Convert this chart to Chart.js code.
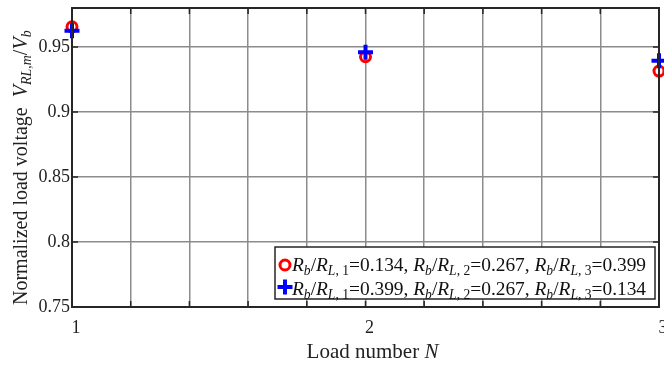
<!DOCTYPE html>
<html>
<head>
<meta charset="utf-8">
<script src="https://cdn.jsdelivr.net/npm/chart.js@4/dist/chart.umd.min.js"></script>
<style>
  html, body { margin: 0; padding: 0; background: #fff; }
  #wrap { width: 664px; height: 366px; position: relative; }
</style>
</head>
<body>
<div id="wrap"><canvas id="c"></canvas></div>
<script>
// Load index on the horizontal axis
const loadNumbers = [1, 2, 3];
// Normalized load voltage, case 1: Rb/RL,1=0.134, Rb/RL,2=0.267, Rb/RL,3=0.399
const voltageCase1 = [0.9655, 0.9425, 0.9315];
// Normalized load voltage, case 2: Rb/RL,1=0.399, Rb/RL,2=0.267, Rb/RL,3=0.134
const voltageCase2 = [0.9625, 0.9460, 0.9395];

// Axis ticks (grid every 0.2 on x, labels only on whole loads)
const xTickValues = [1, 1.2, 1.4, 1.6, 1.8, 2, 2.2, 2.4, 2.6, 2.8, 3];
const xTickLabels = ['1', '', '', '', '', '2', '', '', '', '', '3'];
const yTickValues = [0.75, 0.8, 0.85, 0.9, 0.95];
const yTickLabels = ['0.75', '0.8', '0.85', '0.9', '0.95'];
const yMin = 0.75, yMax = 0.98;

// Legend rows: [Rb/RL,1, Rb/RL,2, Rb/RL,3]
const legendRatios1 = ['0.134', '0.267', '0.399'];
const legendRatios2 = ['0.399', '0.267', '0.134'];

const SERIF = '"Liberation Serif", serif';
const AXIS_DARK = '#262626';
const GRID_GRAY = '#8c8c8c';

// Draw a run of text segments (italic / subscript aware) along the baseline
function drawRich(ctx, segs, x, y, size) {
  ctx.textBaseline = 'alphabetic';
  ctx.textAlign = 'left';
  for (const s of segs) {
    const fs = s.sub ? size * 0.7 : size;
    ctx.font = (s.i ? 'italic ' : '') + fs + 'px ' + SERIF;
    const dy = s.sub ? size * 0.22 : 0;
    ctx.fillText(s.t, x, y + dy);
    x += ctx.measureText(s.t).width;
  }
  return x;
}

function ratioSegs(k) {
  return [
    { t: 'R', i: true }, { t: 'b', i: true, sub: true }, { t: '/' },
    { t: 'R', i: true }, { t: 'L', i: true, sub: true }, { t: ', ' + k, sub: true }
  ];
}
function legendSegs(vals) {
  let segs = [];
  vals.forEach((v, idx) => {
    segs = segs.concat(ratioSegs(idx + 1));
    segs.push({ t: '=' + v + (idx < vals.length - 1 ? ', ' : '') });
  });
  return segs;
}

// Box, inward ticks, legend and axis titles with italic/subscript text
const framePlugin = {
  id: 'frame',
  afterDraw(chart) {
    const ctx = chart.ctx;
    const a = chart.chartArea;
    const xs = chart.scales.x, ys = chart.scales.y;
    ctx.save();
    ctx.strokeStyle = AXIS_DARK;
    ctx.lineWidth = 1.5;
    const tl = 6;
    ctx.beginPath();
    xTickValues.forEach(v => {
      const px = xs.getPixelForValue(v);
      ctx.moveTo(px, a.top); ctx.lineTo(px, a.top + tl);
      ctx.moveTo(px, a.bottom); ctx.lineTo(px, a.bottom - tl);
    });
    yTickValues.forEach(v => {
      const py = ys.getPixelForValue(v);
      ctx.moveTo(a.left, py); ctx.lineTo(a.left + tl, py);
      ctx.moveTo(a.right, py); ctx.lineTo(a.right - tl, py);
    });
    ctx.stroke();
    ctx.lineWidth = 2;
    ctx.strokeRect(a.left, a.top, a.right - a.left, a.bottom - a.top);

    // legend box
    const lx = 275, ly = 247, lw = 380, lh = 52;
    ctx.fillStyle = '#fff';
    ctx.fillRect(lx, ly, lw, lh);
    ctx.lineWidth = 1.5;
    ctx.strokeStyle = AXIS_DARK;
    ctx.strokeRect(lx, ly, lw, lh);
    ctx.strokeStyle = '#ff0000';
    ctx.lineWidth = 3;
    ctx.beginPath();
    ctx.arc(285, 265, 5, 0, Math.PI * 2);
    ctx.stroke();
    ctx.strokeStyle = '#0000ff';
    ctx.lineWidth = 4;
    ctx.beginPath();
    ctx.moveTo(277.5, 287); ctx.lineTo(292.5, 287);
    ctx.moveTo(285, 279.5); ctx.lineTo(285, 294.5);
    ctx.stroke();
    ctx.fillStyle = '#111';
    drawRich(ctx, legendSegs(legendRatios1), 292, 271, 19.4);
    drawRich(ctx, legendSegs(legendRatios2), 292, 295, 19.4);

    // x-axis title
    ctx.fillStyle = '#222';
    const xt = [{ t: 'Load number ' }, { t: 'N', i: true }];
    ctx.font = '21px ' + SERIF;
    let w = ctx.measureText('Load number ').width;
    ctx.font = 'italic 21px ' + SERIF;
    w += ctx.measureText('N').width;
    drawRich(ctx, xt, (a.left + a.right) / 2 + 7 - w / 2, 358, 21);

    // y-axis title
    ctx.translate(27, 305);
    ctx.rotate(-Math.PI / 2);
    const yt = [
      { t: 'Normalized load voltage  ' },
      { t: 'V', i: true }, { t: 'RL,m', i: true, sub: true },
      { t: '/' }, { t: 'V', i: true }, { t: 'b', i: true, sub: true }
    ];
    drawRich(ctx, yt, 0, 0, 20);
    ctx.restore();
  }
};

new Chart(document.getElementById('c'), {
  type: 'scatter',
  data: {
    datasets: [
      {
        label: 'case1',
        data: loadNumbers.map((n, i) => ({ x: n, y: voltageCase1[i] })),
        pointStyle: 'circle', radius: 5, borderWidth: 3,
        borderColor: '#ff0000', backgroundColor: 'rgba(0,0,0,0)',
        clip: false, order: 2
      },
      {
        label: 'case2',
        data: loadNumbers.map((n, i) => ({ x: n, y: voltageCase2[i] })),
        pointStyle: 'cross', radius: 7.5, borderWidth: 4,
        borderColor: '#0000ff', backgroundColor: '#0000ff',
        clip: false, order: 1
      }
    ]
  },
  options: {
    responsive: true, maintainAspectRatio: false, animation: false, devicePixelRatio: 1,
    layout: { autoPadding: false, padding: { left: 0, right: 5, top: 8, bottom: 0 } },
    plugins: { legend: { display: false }, tooltip: { enabled: false } },
    elements: { point: { hoverRadius: 5 } },
    scales: {
      x: {
        type: 'linear', min: 1, max: 3,
        afterBuildTicks(s) { s.ticks = xTickValues.map(v => ({ value: v })); },
        afterFit(s) { s.height = 59; s.paddingLeft = 0; s.paddingRight = 0; },
        grid: { color: GRID_GRAY, lineWidth: 1.5, drawTicks: false },
        border: { display: true, color: AXIS_DARK, width: 2 },
        ticks: {
          autoSkip: false, maxRotation: 0, padding: 10, labelOffset: 4, color: '#222',
          font: { family: SERIF, size: 18 }, callback: (v, i) => xTickLabels[i]
        }
      },
      y: {
        type: 'linear', min: yMin, max: yMax,
        afterBuildTicks(s) { s.ticks = yTickValues.map(v => ({ value: v })); },
        afterFit(s) { s.width = 72; s.paddingTop = 0; s.paddingBottom = 0; },
        grid: { color: GRID_GRAY, lineWidth: 1.5, drawTicks: false },
        border: { display: true, color: AXIS_DARK, width: 2 },
        ticks: {
          padding: 2, color: '#222',
          font: { family: SERIF, size: 18 }, callback: (v, i) => yTickLabels[i]
        }
      }
    }
  },
  plugins: [framePlugin]
});
</script>
</body>
</html>
